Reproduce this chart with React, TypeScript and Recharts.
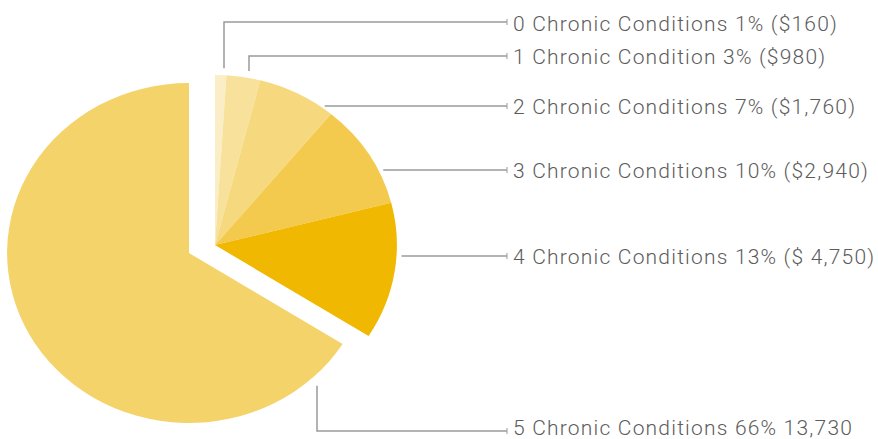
import { PieChart, Pie, Cell, Sector } from "recharts"

const categories = [
  "0 Chronic Conditions",
  "1 Chronic Condition",
  "2 Chronic Conditions",
  "3 Chronic Conditions",
  "4 Chronic Conditions",
  "5 Chronic Conditions",
]
const shares = [1, 3, 7, 10, 13, 66]
const costLabels = ["($160)", "($980)", "($1,760)", "($2,940)", "($ 4,750)", "13,730"]
const colors = ["#fbedc6", "#f8e29b", "#f6d97f", "#f4ca4e", "#f0b800", "#f4d36a"]

// label layout: leader row y, text centre y, and x of the vertical leg (null = straight leader)
const labelRowY = [22, 56, 106, 170, 256, 431]
const labelTextY = [23.5, 57, 107, 171, 257, 427.5]
const legX: (number | null)[] = [224, 249, null, null, null, 317]

const data = categories.map((name, i) => ({ name, value: shares[i], cost: costLabels[i] }))

const W = 878
const H = 439
const R = 170
const SX = 1.07 // the original pie is slightly wider than tall
const LINE_END = 507
const TEXT_X = 513
const lineColor = "#9a9a9a"
const textColor = "#5c5c5c"

function ovalSector(props: any) {
  const { cx, cy } = props
  return (
    <g transform={`translate(${cx} ${cy}) scale(${SX} 1) translate(${-cx} ${-cy})`}>
      <Sector {...props} />
    </g>
  )
}

function makeLabel(show: (i: number) => boolean) {
  return (props: any) => {
    const { cx, cy, outerRadius, index } = props
    if (!show(index)) return null
    const rx = outerRadius * SX
    const ry = outerRadius
    const rowY = labelRowY[index]
    const lx = legX[index]
    let path: string
    if (lx !== null) {
      const t = (lx - cx) / rx
      const h = ry * Math.sqrt(Math.max(0, 1 - t * t))
      const below = rowY > cy
      const startY = below ? cy + h + 12 : cy - h - 7
      path = `M${lx},${startY}V${rowY}H${LINE_END}`
    } else {
      const t = (rowY - cy) / ry
      const startX = cx + rx * Math.sqrt(Math.max(0, 1 - t * t)) + 5
      path = `M${startX},${rowY}H${LINE_END}`
    }
    const d = data[index]
    return (
      <g>
        <path d={path} stroke={lineColor} strokeWidth={1.5} fill="none" />
        <line x1={LINE_END} x2={LINE_END} y1={rowY - 3} y2={rowY + 3} stroke={lineColor} strokeWidth={1} />
        <text
          x={TEXT_X}
          y={labelTextY[index]}
          fill={textColor}
          fontSize={21}
          fontWeight={300}
          letterSpacing={1.2}
          fontFamily="Roboto, 'Noto Sans', sans-serif"
          dominantBaseline="central"
        >
          {`${d.name} ${d.value}% ${d.cost}`}
        </text>
      </g>
    )
  }
}

export default function App() {
  return (
    <div style={{ position: "absolute", left: 0, top: 0, width: W, height: H, background: "#fff" }}>
      <PieChart width={W} height={H} margin={{ top: 0, right: 0, bottom: 0, left: 0 }}>
        <Pie
          data={data}
          dataKey="value"
          cx={215}
          cy={245}
          outerRadius={R}
          startAngle={90}
          endAngle={-270}
          stroke="none"
          isAnimationActive={false}
          shape={ovalSector}
          activeShape={ovalSector}
          inactiveShape={ovalSector}
          labelLine={false}
          label={makeLabel((i) => i < 5)}
        >
          {data.map((_, i) => (
            <Cell key={i} fill={i < 5 ? colors[i] : "transparent"} />
          ))}
        </Pie>
        <Pie
          data={data}
          dataKey="value"
          cx={189}
          cy={253}
          outerRadius={R}
          startAngle={90}
          endAngle={-270}
          stroke="none"
          isAnimationActive={false}
          shape={ovalSector}
          activeShape={ovalSector}
          inactiveShape={ovalSector}
          labelLine={false}
          label={makeLabel((i) => i === 5)}
        >
          {data.map((_, i) => (
            <Cell key={i} fill={i === 5 ? colors[i] : "transparent"} />
          ))}
        </Pie>
      </PieChart>
    </div>
  )
}
